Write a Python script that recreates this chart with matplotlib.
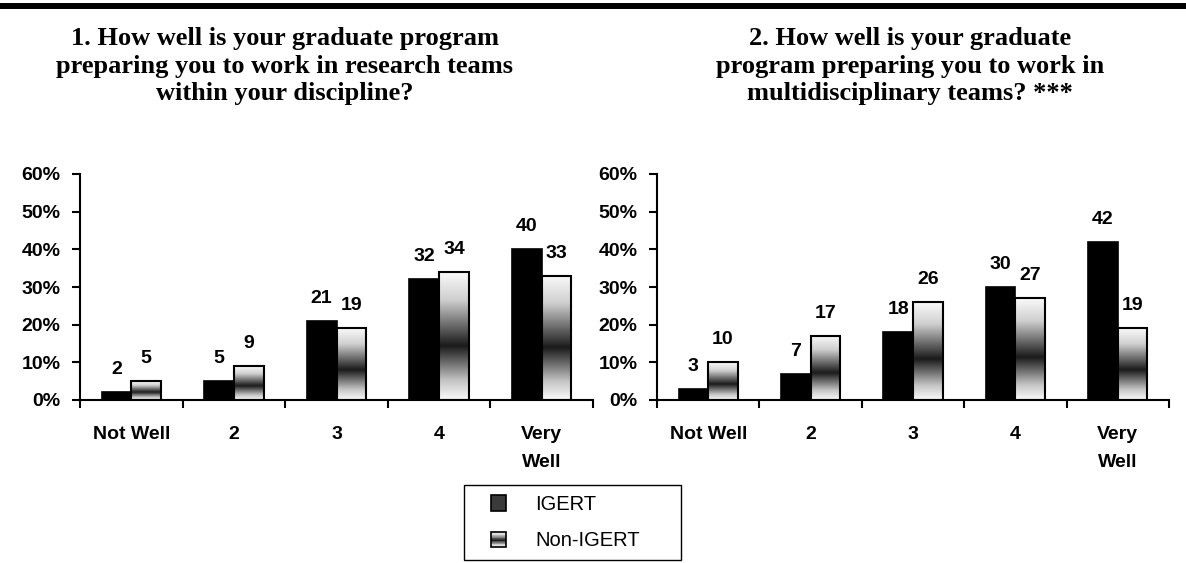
"""
Survey chart: graduate programs preparing students for team work (IGERT vs Non-IGERT)
"""

import numpy as np
import matplotlib
matplotlib.use('Agg')
import matplotlib.pyplot as plt
from matplotlib.colors import LinearSegmentedColormap
from matplotlib.legend_handler import HandlerBase
from matplotlib.patches import Rectangle
from matplotlib.lines import Line2D

# Data
categories = ['Not Well', '2', '3', '4', 'Very\nWell']
series_names = ['IGERT', 'Non-IGERT']
q1_igert = [2, 5, 21, 32, 40]
q1_non_igert = [5, 9, 19, 34, 33]
q2_igert = [3, 7, 18, 30, 42]
q2_non_igert = [10, 17, 26, 27, 19]
y_ticks = [0, 10, 20, 30, 40, 50, 60]
titles = [
    '1. How well is your graduate program\npreparing you to work in research teams\nwithin your discipline?',
    '2. How well is your graduate\nprogram preparing you to work in\nmultidisciplinary teams? ***',
]

SANS = 'Liberation Sans'
SERIF = 'Liberation Serif'

# grey band gradient used by the Non-IGERT bars
grad_cmap = LinearSegmentedColormap.from_list(
    'band', [(0, '#fafafa'), (0.22, '#d0d0d0'), (0.58, '#1a1a1a'), (0.85, '#c4c4c4'), (1, '#fbfbfb')])


class GradientSquare(HandlerBase):
    """Legend key: a small square filled with stripes of the gradient."""
    def __init__(self, gradient):
        super().__init__()
        self.gradient = gradient

    def create_artists(self, legend, orig_handle, xdescent, ydescent, width, height, fontsize, trans):
        side = 11
        x0 = width / 2 - side / 2 - xdescent
        y0 = height / 2 - side / 2 - ydescent
        artists = []
        if self.gradient:
            n = 20
            for i in range(n):
                c = grad_cmap(1 - (i + 0.5) / n)
                artists.append(Rectangle((x0, y0 + i * side / n), side, side / n + 0.05,
                                         facecolor=c, edgecolor='none', transform=trans))
            artists.append(Rectangle((x0, y0), side, side, facecolor='none',
                                     edgecolor='black', lw=1.2, transform=trans))
        else:
            artists.append(Rectangle((x0, y0), side, side, facecolor='#3a3a3a',
                                     edgecolor='black', lw=1.2, transform=trans))
        return artists


def draw_panel(ax, igert, non_igert):
    x = np.arange(len(categories))
    w = 0.29
    grad = np.linspace(0, 1, 256)[:, None]

    ax.bar(x - w / 2, igert, width=w, color='black', edgecolor='black', linewidth=1.2, zorder=3)
    for xi, v in zip(x, non_igert):
        ax.imshow(grad, extent=(xi, xi + w, 0, v), aspect='auto', cmap=grad_cmap,
                  interpolation='bicubic', zorder=2)
    ax.bar(x + w / 2, non_igert, width=w, facecolor='none', edgecolor='black', linewidth=1.5, zorder=3)

    for xs, vals in ((x - w / 2, igert), (x + w / 2, non_igert)):
        for xi, v in zip(xs, vals):
            ax.annotate(str(v), (xi, v), xytext=(0, 13), textcoords='offset points',
                        ha='center', va='baseline', fontsize=14, fontweight='bold', family=SANS)

    ax.set_xlim(-0.5, len(categories) - 0.5)
    ax.set_ylim(0, 60)
    ax.set_yticks(y_ticks)
    ax.set_yticklabels([f'{t}%' for t in y_ticks], fontsize=14, fontweight='bold', family=SANS)
    ax.tick_params(axis='y', length=6, width=1.5, pad=8)

    # tick marks between categories, labels at the centres
    ax.set_xticks(np.arange(len(categories) + 1) - 0.5)
    ax.set_xticklabels([])
    ax.tick_params(axis='x', which='major', length=6, width=1.5, direction='out')
    ax.set_xticks(x, minor=True)
    ax.set_xticklabels(categories, minor=True, fontsize=14, fontweight='bold', family=SANS,
                       linespacing=1.85)
    ax.tick_params(axis='x', which='minor', length=0, pad=19)

    for side in ('top', 'right'):
        ax.spines[side].set_visible(False)
    for side in ('left', 'bottom'):
        ax.spines[side].set_linewidth(1.5)
    ax.patch.set_visible(False)


fig = plt.figure(figsize=(11.86, 5.63), dpi=100)
W, H = 1186, 563

ax1 = fig.add_axes([80 / W, (H - 400) / H, 513 / W, 226 / H])
ax2 = fig.add_axes([657 / W, (H - 400) / H, 512 / W, 226 / H])
draw_panel(ax1, q1_igert, q1_non_igert)
draw_panel(ax2, q2_igert, q2_non_igert)

fig.text(285 / W, 1 - 27 / H, titles[0], ha='center', va='top', fontsize=19,
         fontweight='bold', family=SERIF, linespacing=1.25)
fig.text(910 / W, 1 - 27 / H, titles[1], ha='center', va='top', fontsize=19,
         fontweight='bold', family=SERIF, linespacing=1.25)

# heavy rule along the top
fig.add_artist(Line2D([0, 1], [1 - 6 / H] * 2, transform=fig.transFigure, color='black', lw=4.3))

handles = [Rectangle((0, 0), 1, 1), Rectangle((0, 0), 1, 1)]
leg = fig.legend(handles, series_names, loc='upper left',
                 bbox_to_anchor=(464 / W, 0, 217 / W, 1 - 485 / H), mode='expand',
                 borderaxespad=0, prop={'family': SANS, 'size': 14.5},
                 handler_map={handles[0]: GradientSquare(False), handles[1]: GradientSquare(True)},
                 handlelength=2.4, handletextpad=0.65, labelspacing=0.85, borderpad=0.5,
                 fancybox=False, framealpha=1, edgecolor='black')
leg.get_frame().set_linewidth(1.0)

fig.savefig('out.png', dpi=100)
